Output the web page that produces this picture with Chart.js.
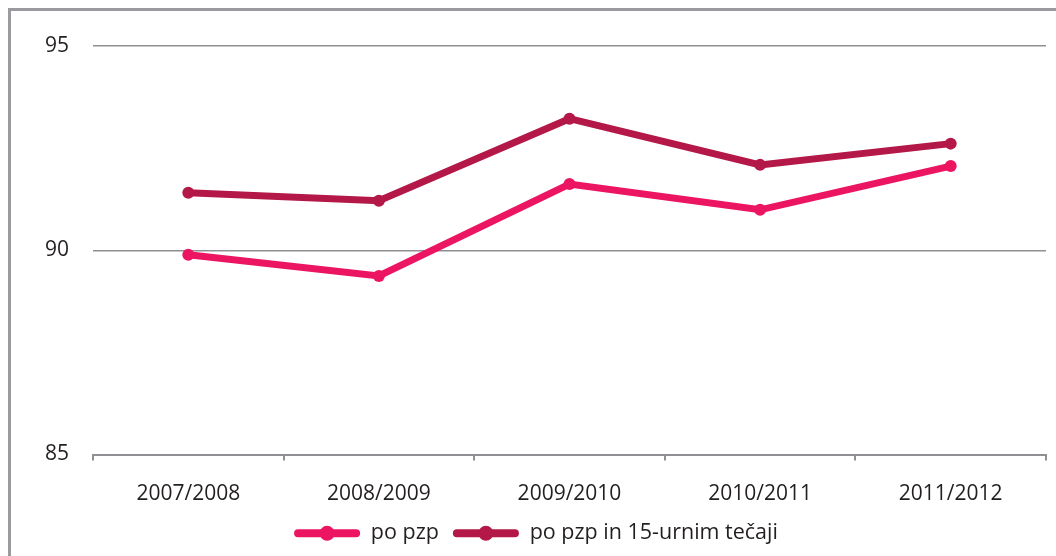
<!DOCTYPE html>
<html>
<head>
<meta charset="utf-8">
<script src="https://cdn.jsdelivr.net/npm/chart.js@4/dist/chart.umd.min.js"></script>
<style>
  html, body { margin: 0; padding: 0; background: #fff; }
  #wrap { width: 1056px; height: 556px; position: relative; }
</style>
</head>
<body>
<div id="wrap"><canvas id="chart"></canvas></div>
<script>
const years = ['2007/2008', '2008/2009', '2009/2010', '2010/2011', '2011/2012'];
const poPzp = [89.89, 89.37, 91.62, 90.99, 92.06];
const poPzpTecaji = [91.41, 91.21, 93.22, 92.09, 92.61];
const yTicks = [85, 90, 95];

const fontFamily = "'Open Sans', 'Noto Sans', sans-serif";
const textColor = '#231f20';
const gridColor = '#8f8f94';

// okvir okoli grafa (desni in spodnji rob sta odrezana)
const framePlugin = {
    id: 'frame',
    beforeDraw(chart) {
        const ctx = chart.ctx;
        ctx.save();
        ctx.strokeStyle = '#9b9b9f';
        ctx.lineWidth = 3;
        ctx.strokeRect(9.5, 9.5, 1200, 700);
        ctx.restore();
    }
};

// črta s krogcem v legendi, legenda malo bolj desno
const legendMarks = {
    id: 'legendMarks',
    afterLayout(chart) {
        if (chart.legend) {
            chart.legend.left += 13;
            chart.legend.right += 13;
        }
    },
    afterDraw(chart) {
        const legend = chart.legend;
        if (!legend || !legend.legendHitBoxes) return;
        const ctx = chart.ctx;
        legend.legendHitBoxes.forEach((box, i) => {
            const ds = chart.data.datasets[i];
            const cy = box.top + box.height / 2;
            ctx.save();
            ctx.strokeStyle = ds.borderColor;
            ctx.fillStyle = ds.borderColor;
            ctx.lineWidth = 8;
            ctx.lineCap = 'round';
            ctx.beginPath();
            ctx.moveTo(box.left + 4, cy);
            ctx.lineTo(box.left + 62, cy);
            ctx.stroke();
            ctx.beginPath();
            ctx.arc(box.left + 33, cy, 7.5, 0, Math.PI * 2);
            ctx.fill();
            ctx.restore();
        });
    }
};

new Chart(document.getElementById('chart'), {
    type: 'line',
    data: {
        labels: years,
        datasets: [{
            label: 'po pzp',
            data: poPzp,
            borderColor: '#ec1561',
            backgroundColor: '#ec1561',
            borderWidth: 7,
            borderCapStyle: 'round',
            pointRadius: 6,
            pointHoverRadius: 6,
            pointBackgroundColor: '#ec1561',
            pointBorderWidth: 0,
            tension: 0
        }, {
            label: 'po pzp in 15-urnim tečaji',
            data: poPzpTecaji,
            borderColor: '#b31848',
            backgroundColor: '#b31848',
            borderWidth: 7,
            borderCapStyle: 'round',
            pointRadius: 6,
            pointHoverRadius: 6,
            pointBackgroundColor: '#b31848',
            pointBorderWidth: 0,
            tension: 0
        }]
    },
    options: {
        responsive: true,
        maintainAspectRatio: false,
        animation: false,
        layout: { padding: { top: 46, right: 10, left: 0, bottom: 2 } },
        plugins: {
            tooltip: { enabled: false },
            legend: {
                position: 'bottom',
                labels: {
                    usePointStyle: true,
                    pointStyle: 'line',
                    pointStyleWidth: 66,
                    padding: 14,
                    color: textColor,
                    font: { family: fontFamily, size: 21.5 }
                }
            }
        },
        scales: {
            x: {
                offset: true,
                grid: {
                    offset: true,
                    drawOnChartArea: false,
                    drawTicks: true,
                    tickLength: 6,
                    color: gridColor,
                    lineWidth: 2
                },
                border: { display: true, color: gridColor, width: 2 },
                ticks: {
                    color: textColor,
                    padding: 21,
                    font: { family: fontFamily, size: 21 }
                },
                afterFit: s => { s.height = 54; }
            },
            y: {
                min: 85,
                max: 95,
                afterBuildTicks: s => { s.ticks = yTicks.map(v => ({ value: v })); },
                grid: { drawTicks: false, color: gridColor, lineWidth: 1.5 },
                border: { display: false },
                ticks: {
                    color: textColor,
                    padding: 24,
                    font: { family: fontFamily, size: 21 }
                },
                afterFit: s => { s.width = 93; }
            }
        }
    },
    plugins: [framePlugin, legendMarks]
});
</script>
</body>
</html>
